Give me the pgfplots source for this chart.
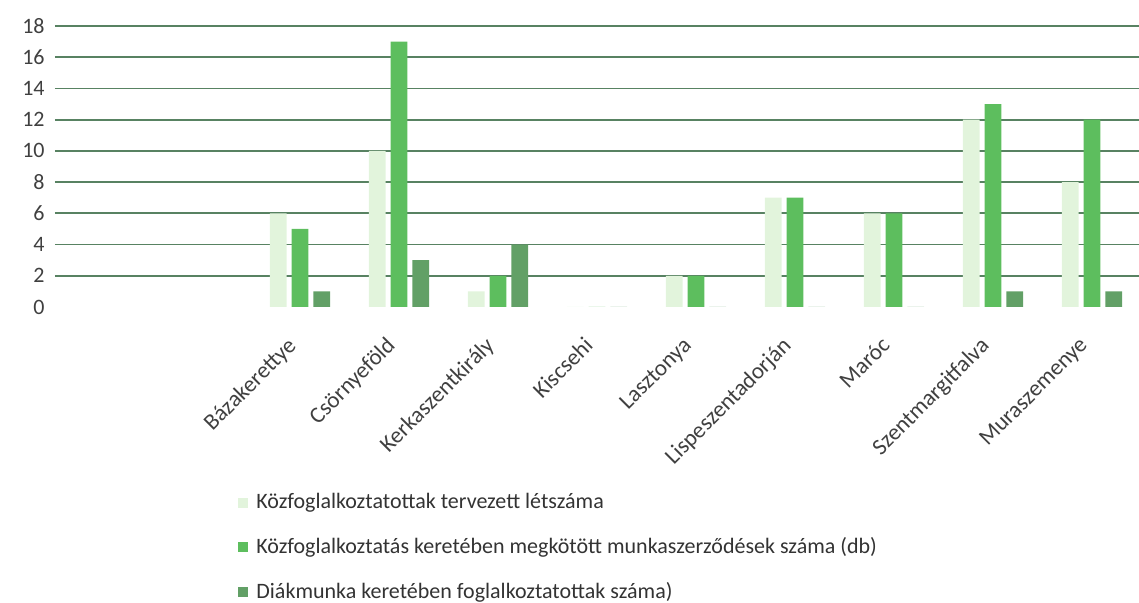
\documentclass[border=0pt]{standalone}
\usepackage{fontspec}
\setmainfont{Carlito}
\usepackage{pgfplots}
\pgfplotsset{compat=1.18}

\definecolor{tervezett}{RGB}{226,244,220}
\definecolor{szerzodes}{RGB}{93,190,94}
\definecolor{diak}{RGB}{98,160,102}
\definecolor{racs}{RGB}{88,130,98}

\begin{document}
\begin{tikzpicture}
\useasboundingbox (-27.5pt,-148pt) rectangle (542pt,153.5pt);
\begin{axis}[
    scale only axis,
    width=542pt,
    height=140.5pt,
    ybar,
    xmin=-2.475, xmax=8.475,
    ymin=0, ymax=18,
    axis line style={draw=none},
    clip=false,
    xtick={0,...,8},
    xticklabels={Bázakerettye,Csörnyeföld,Kerkaszentkirály,Kiscsehi,Lasztonya,Lispeszentadorján,Maróc,Szentmargitfalva,Muraszemenye},
    ytick={2,4,...,18},
    extra y ticks={0},
    extra y tick style={grid=none},
    ymajorgrids,
    grid style={racs, line width=0.9pt},
    major tick length=0pt,
    tick label style={font=\fontsize{11}{13}\selectfont, text=black!75},
    /pgf/number format/assume math mode=true,
    yticklabel style={anchor=east, inner sep=0pt, xshift=-5pt},
    xticklabel style={rotate=45, anchor=north east, inner sep=0pt, yshift=-5pt, xshift=-15pt,
        font=\fontsize{11.5}{13}\selectfont},
    bar width=0.17,
    legend cell align=left,
    legend style={
        at={(88.5pt,-89pt)}, anchor=north west,
        draw=none, fill=none,
        font=\fontsize{11}{13}\selectfont,
        text=black!80,
        row sep=9pt,
        /tikz/every odd column/.append style={column sep=2pt},
    },
    legend image code/.code={\fill[#1] (0pt,-2.5pt) rectangle (5pt,2.5pt);},
]
\addplot[fill=tervezett, draw=none, bar shift=-0.22] coordinates {
    (0,6) (1,10) (2,1) (3,0) (4,2) (5,7) (6,6) (7,12) (8,8)};
\addplot[fill=szerzodes, draw=none, bar shift=0] coordinates {
    (0,5) (1,17) (2,2) (3,0) (4,2) (5,7) (6,6) (7,13) (8,12)};
\addplot[fill=diak, draw=none, bar shift=0.22] coordinates {
    (0,1) (1,3) (2,4) (3,0) (4,0) (5,0) (6,0) (7,1) (8,1)};
\legend{Közfoglalkoztatottak tervezett létszáma,
        Közfoglalkoztatás keretében megkötött munkaszerződések száma (db),
        Diákmunka keretében foglalkoztatottak száma)}
\end{axis}
\end{tikzpicture}
\end{document}
